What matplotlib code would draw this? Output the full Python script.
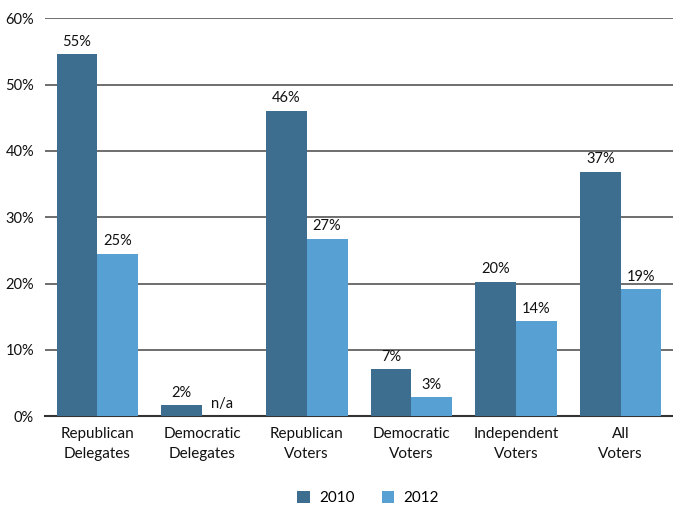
import numpy as np
import matplotlib.pyplot as plt

# Veriler
categories = ['Republican\nDelegates', 'Democratic\nDelegates', 'Republican\nVoters',
              'Democratic\nVoters', 'Independent\nVoters', 'All\nVoters']
values_2010 = [54.6, 1.7, 46.1, 7.1, 20.3, 36.9]
values_2012 = [24.5, 0, 26.8, 2.9, 14.3, 19.2]
labels_2010 = ['55%', '2%', '46%', '7%', '20%', '37%']
labels_2012 = ['25%', 'n/a', '27%', '3%', '14%', '19%']
yticks = [0, 10, 20, 30, 40, 50, 60]

plt.rcParams['font.family'] = ['Lato', 'DejaVu Sans']

fig = plt.figure(figsize=(6.73, 5.23), dpi=100)
ax = fig.add_axes([0.067, 0.204, 0.933, 0.761])

x = np.arange(len(categories))
w = 0.39
b1 = ax.bar(x - w / 2, values_2010, w, color='#3D6E8F', label='2010', zorder=3)
b2 = ax.bar(x + w / 2, values_2012, w, color='#56A0D3', label='2012', zorder=3)

for rect, lab in zip(b1, labels_2010):
    ax.text(rect.get_x() + rect.get_width() / 2, rect.get_height() + 0.8, lab,
            ha='center', va='bottom', fontsize=10.5, color='#111111')
for rect, lab in zip(b2, labels_2012):
    ax.text(rect.get_x() + rect.get_width() / 2, rect.get_height() + 0.8, lab,
            ha='center', va='bottom', fontsize=10.5, color='#111111')

ax.set_xlim(-0.5, len(categories) - 0.5)
ax.set_ylim(0, 60)
ax.set_yticks(yticks)
ax.set_yticklabels([f'{t}%' for t in yticks], fontsize=10.5, color='#111111')
ax.set_xticks(x)
ax.set_xticklabels(categories, fontsize=11, color='#111111', linespacing=1.5)
ax.tick_params(axis='both', length=0, pad=8)
ax.tick_params(axis='x', pad=8)

ax.grid(axis='y', color='#555555', linewidth=1.2, zorder=0)
for s in ['top', 'right', 'left']:
    ax.spines[s].set_visible(False)
ax.spines['bottom'].set_color('#333333')
ax.spines['bottom'].set_linewidth(1.5)

fig.legend(handles=[b1, b2], loc='center', bbox_to_anchor=(0.547, 0.048), ncol=2,
           frameon=False, fontsize=11, handlelength=0.8, handleheight=0.8,
           columnspacing=1.8, handletextpad=0.6)

plt.savefig('out.png', dpi=100)
